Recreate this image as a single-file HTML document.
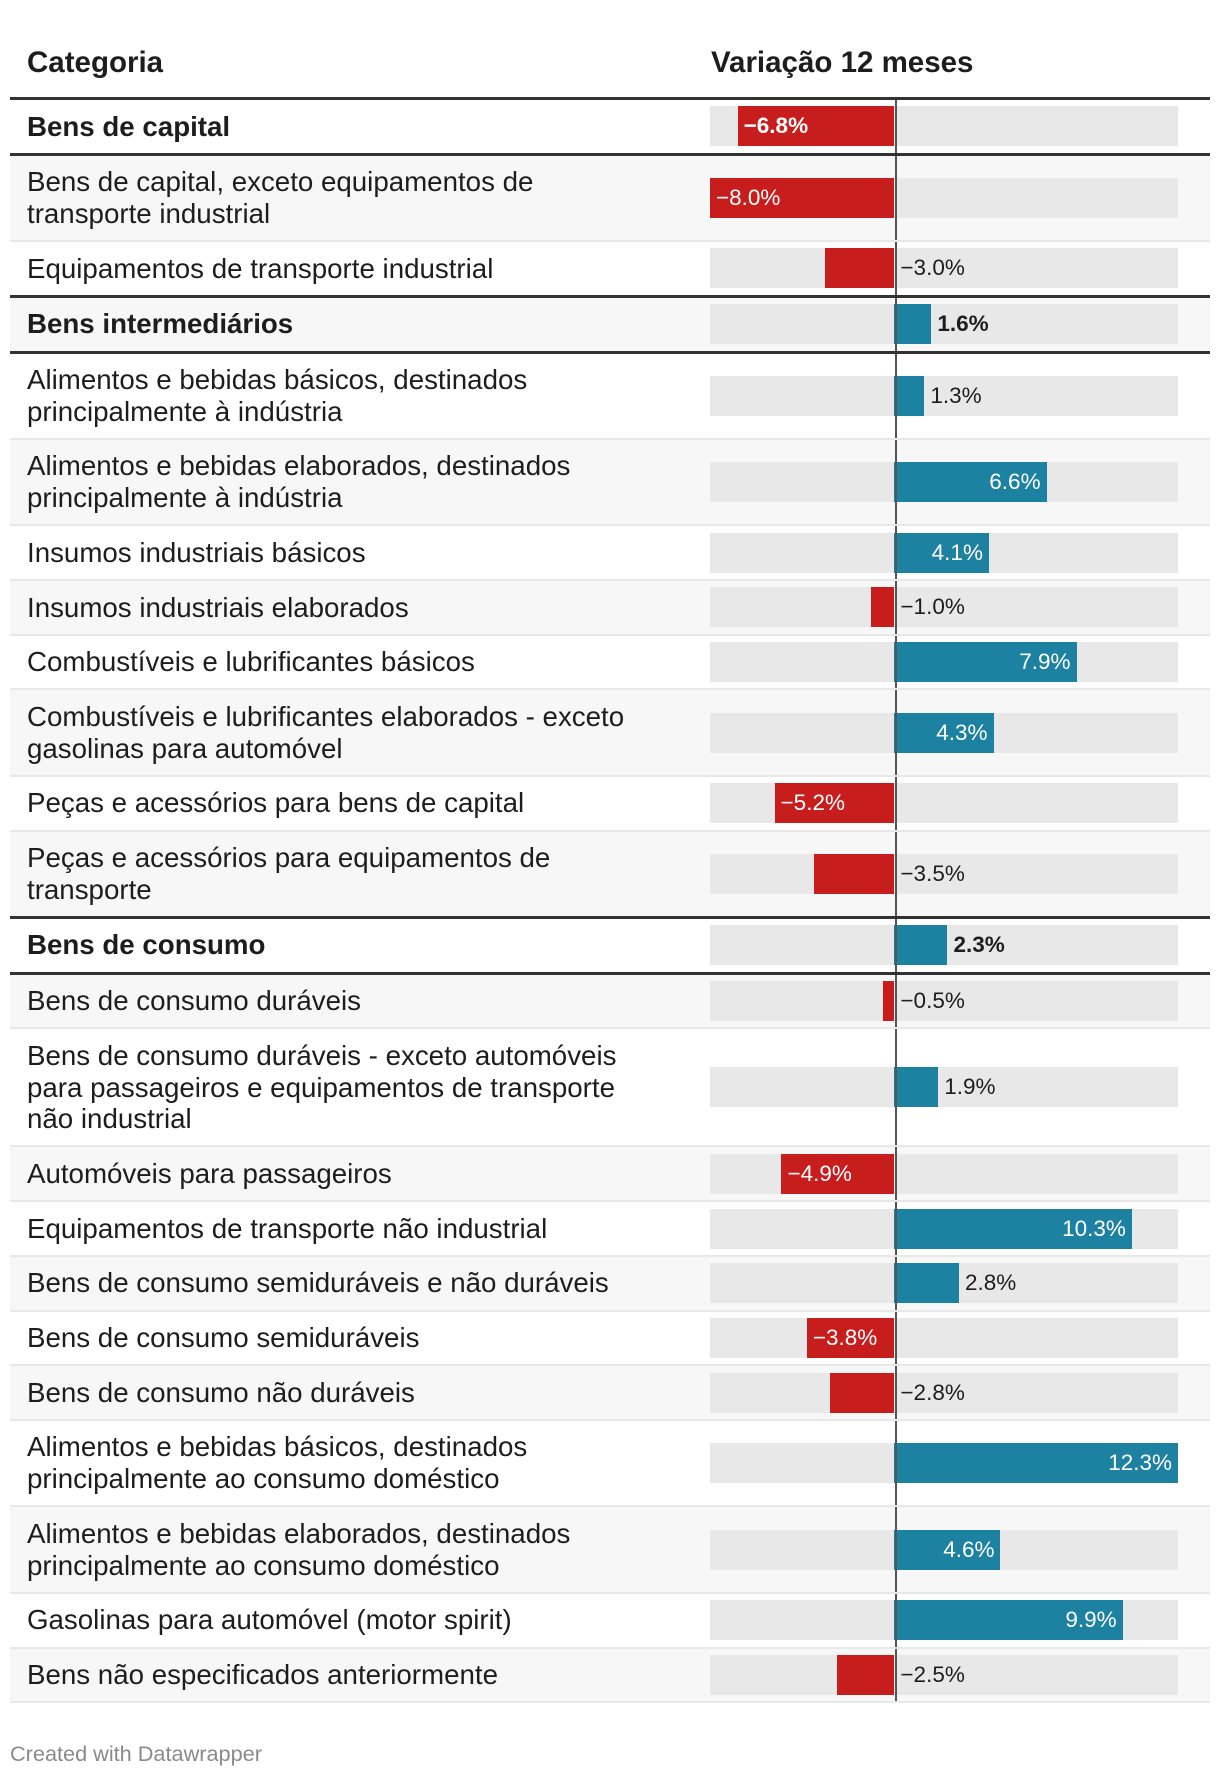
<!DOCTYPE html>
<html><head><meta charset="utf-8">
<style>
html,body{margin:0;padding:0;background:#fff;width:1220px;height:1776px;overflow:hidden}
body{font-family:"Liberation Sans",sans-serif;color:#1d1d1d;position:relative}
#hdr{position:absolute;left:10px;top:0;width:1200px;height:97px;border-bottom:3px solid #333;font-weight:bold;font-size:29.5px}
#hdr span{position:absolute;top:46px}
#tbl{position:absolute;left:10px;top:100px;width:1200px}
.row{position:relative;display:flex;align-items:center;padding:10.5px 0;border-bottom:2px solid #e8e8e8;font-size:27.7px;line-height:31.7px;box-sizing:border-box;white-space:nowrap}
.row.g{background:#f7f7f7}
.row.grp{font-weight:bold;border-bottom:3px solid #333}
.row.pre{border-bottom:3px solid #333}
.lab{padding-left:17px;width:640px}
.bg{position:absolute;left:700px;width:468px;height:40px;background:#e8e8e8;top:50%;margin-top:-20px}
.bar{position:absolute;top:0;height:40px}
.zl{position:absolute;left:885px;top:0;bottom:0;width:1.5px;background:#555}
.val{position:absolute;top:0;height:40px;line-height:40px;font-size:22.5px;white-space:nowrap}
#foot{position:absolute;left:10px;top:1741px;font-size:21.7px;color:#8a8a8a}
</style></head><body>
<div id="hdr">
<span style="left:17px">Categoria</span>
<span style="left:701px">Variação 12 meses</span>
</div>
<div id="tbl"></div>
<div id="foot">Created with Datawrapper</div>
<script>
const categories=["Bens de capital","Bens de capital, exceto equipamentos de<br>transporte industrial","Equipamentos de transporte industrial","Bens intermediários","Alimentos e bebidas básicos, destinados<br>principalmente à indústria","Alimentos e bebidas elaborados, destinados<br>principalmente à indústria","Insumos industriais básicos","Insumos industriais elaborados","Combustíveis e lubrificantes básicos","Combustíveis e lubrificantes elaborados - exceto<br>gasolinas para automóvel","Peças e acessórios para bens de capital","Peças e acessórios para equipamentos de<br>transporte","Bens de consumo","Bens de consumo duráveis","Bens de consumo duráveis - exceto automóveis<br>para passageiros e equipamentos de transporte<br>não industrial","Automóveis para passageiros","Equipamentos de transporte não industrial","Bens de consumo semiduráveis e não duráveis","Bens de consumo semiduráveis","Bens de consumo não duráveis","Alimentos e bebidas básicos, destinados<br>principalmente ao consumo doméstico","Alimentos e bebidas elaborados, destinados<br>principalmente ao consumo doméstico","Gasolinas para automóvel (motor spirit)","Bens não especificados anteriormente"];
const values=[-6.8,-8.0,-3.0,1.6,1.3,6.6,4.1,-1.0,7.9,4.3,-5.2,-3.5,2.3,-0.5,1.9,-4.9,10.3,2.8,-3.8,-2.8,12.3,4.6,9.9,-2.5];
const groupRows=[0,3,12];
const domainMin=-8.0, domainMax=12.3, barW=468;
function x(v){return (v-domainMin)/(domainMax-domainMin)*barW;}
const tbl=document.getElementById('tbl');
categories.forEach((c,i)=>{
  const v=values[i];
  const row=document.createElement('div');
  
  
  let cls='row';
  if(i%2===1)cls+=' g';
  if(groupRows.includes(i))cls+=' grp';
  if(groupRows.includes(i+1))cls+=' pre';
  row.className=cls;
  const lab=document.createElement('div');
  lab.className='lab';lab.innerHTML=c;
  
  
  row.appendChild(lab);
  const zl=document.createElement('div');zl.className='zl';
  
  
  const bg=document.createElement('div');bg.className='bg';
  
  
  const x0=x(0),x1=x(v);
  const bar=document.createElement('div');bar.className='bar';
  
  
  bar.style.left=Math.min(x0,x1)+'px';
  bar.style.width=Math.abs(x1-x0)+'px';
  bar.style.background=v<0?'#c71e1d':'#1d81a2';
  bg.appendChild(bar);
  const lbl=document.createElement('div');lbl.className='val';
  
  
  lbl.textContent=(v<0?'−':'')+Math.abs(v).toFixed(1)+'%';
  const w=Math.abs(x1-x0);
  const inside=w>85;
  if(v<0){
    if(inside){lbl.style.left=(x1+6)+'px';lbl.style.color='#fff';}
    else{lbl.style.left=(x0+6)+'px';}
  }else{
    if(inside){lbl.style.right=(barW-x1+6)+'px';lbl.style.color='#fff';}
    else{lbl.style.left=(x1+6)+'px';}
  }
  bg.appendChild(lbl);
  row.appendChild(bg);
  row.appendChild(zl);
  tbl.appendChild(row);
});
</script>
</body></html>
